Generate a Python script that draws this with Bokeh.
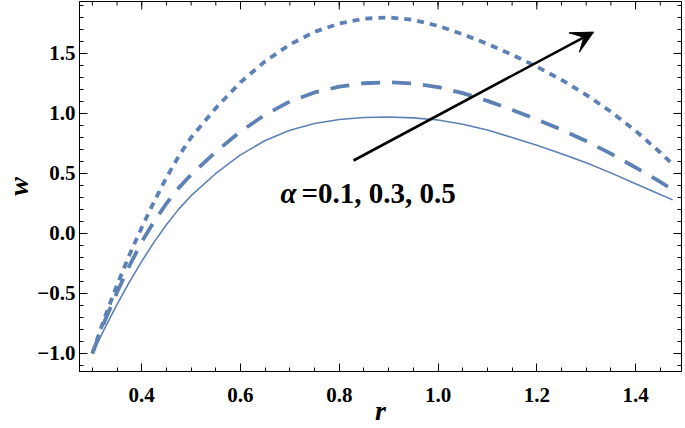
import numpy as np
from bokeh.plotting import figure
from bokeh.models import LinearAxis, FixedTicker, Range1d, Arrow, VeeHead, Label
from bokeh.embed import file_html
from bokeh.resources import INLINE

# ---- data ----
r = [0.30, 0.325, 0.35, 0.375, 0.40, 0.425, 0.45, 0.475, 0.50, 0.55, 0.60, 0.65,
     0.70, 0.75, 0.80, 0.85, 0.90, 0.95, 1.00, 1.05, 1.10, 1.15, 1.20, 1.25,
     1.30, 1.35, 1.40, 1.45, 1.475]
w_alpha_01 = [-1.00, -0.79, -0.59, -0.405, -0.232, -0.072, 0.073, 0.203, 0.315, 0.50, 0.655, 0.775,
              0.86, 0.917, 0.95, 0.967, 0.97, 0.963, 0.945, 0.91, 0.862, 0.80, 0.735, 0.665,
              0.59, 0.505, 0.415, 0.325, 0.28]
w_alpha_03 = [-1.00, -0.73, -0.49, -0.27, -0.07, 0.10, 0.25, 0.38, 0.49, 0.68, 0.85, 0.99,
              1.10, 1.175, 1.223, 1.252, 1.26, 1.25, 1.22, 1.17, 1.105, 1.03, 0.95, 0.865,
              0.77, 0.665, 0.55, 0.43, 0.365]
w_alpha_05 = [-1.00, -0.70, -0.43, -0.18, 0.05, 0.265, 0.465, 0.645, 0.80, 1.045, 1.26, 1.435,
              1.575, 1.68, 1.75, 1.79, 1.80, 1.78, 1.73, 1.66, 1.58, 1.49, 1.39, 1.28,
              1.155, 1.015, 0.855, 0.675, 0.578]

x_ticks = [0.4, 0.6, 0.8, 1.0, 1.2, 1.4]
x_tick_labels = ["0.4", "0.6", "0.8", "1.0", "1.2", "1.4"]
y_ticks = [-1.0, -0.5, 0.0, 0.5, 1.0, 1.5]
y_tick_labels = ["\u22121.0", "\u22120.5", "0.0", "0.5", "1.0", "1.5"]

x_range_lims = [0.274, 1.493]
y_range_lims = [-1.15, 1.933]

arrow_start = [0.829, 0.608]
arrow_end = [1.315, 1.678]
annot_pos = [0.681, 0.34]
annot_symbol = "\u03b1"
annot_text = "=0.1, 0.3, 0.5"

# ---- figure ----
COLOR = "#5E81B5"
FONT = "Liberation Serif"

p = figure(width=685, height=428, output_backend="svg", toolbar_location=None,
           x_range=Range1d(*x_range_lims), y_range=Range1d(*y_range_lims),
           x_axis_location=None, y_axis_location=None,
           min_border_left=79, min_border_right=4, min_border_top=1, min_border_bottom=57)
p.grid.visible = False
p.outline_line_color = "black"
p.outline_line_width = 1
p.background_fill_color = "white"
p.border_fill_color = "white"

x_minor = [v for v in np.round(np.arange(0.25, 1.55, 0.05), 3)
           if x_range_lims[0] < v < x_range_lims[1]]
y_minor = [v for v in np.round(np.arange(-1.2, 2.0, 0.1), 3)
           if y_range_lims[0] < v < y_range_lims[1]]
xt = FixedTicker(ticks=x_ticks, minor_ticks=x_minor)
yt = FixedTicker(ticks=y_ticks, minor_ticks=y_minor)


def style_axis(ax):
    ax.axis_line_color = "black"
    ax.axis_line_width = 1
    ax.major_tick_in = 8
    ax.major_tick_out = 0
    ax.minor_tick_in = 4
    ax.minor_tick_out = 0
    ax.major_tick_line_color = "black"
    ax.minor_tick_line_color = "black"
    ax.major_label_text_font = FONT
    ax.major_label_text_font_style = "bold"
    ax.major_label_text_font_size = "21px"
    ax.major_label_text_color = "black"
    ax.axis_label_text_font = FONT
    ax.axis_label_text_font_style = "bold italic"
    ax.axis_label_text_font_size = "28px"
    ax.axis_label_text_color = "black"


xb = LinearAxis(ticker=xt, axis_label="r",
                major_label_overrides=dict(zip(x_ticks, x_tick_labels)))
style_axis(xb)
xb.major_label_standoff = 16
xb.axis_label_standoff = -10
p.add_layout(xb, "below")

yl = LinearAxis(ticker=yt, axis_label="w",
                major_label_overrides=dict(zip(y_ticks, y_tick_labels)))
style_axis(yl)
yl.major_label_standoff = 4
yl.axis_label_standoff = 0
p.add_layout(yl, "left")

# mirrored frame ticks on the top and right edges
top_y = y_range_lims[1]
right_x = x_range_lims[1]
p.ray(x=x_ticks, y=[top_y] * len(x_ticks), length=8, length_units="screen",
      angle=-np.pi / 2, line_color="black", line_width=1)
p.ray(x=x_minor, y=[top_y] * len(x_minor), length=4, length_units="screen",
      angle=-np.pi / 2, line_color="black", line_width=1)
p.ray(x=[right_x] * len(y_ticks), y=y_ticks, length=8, length_units="screen",
      angle=np.pi, line_color="black", line_width=1)
p.ray(x=[right_x] * len(y_minor), y=y_minor, length=4, length_units="screen",
      angle=np.pi, line_color="black", line_width=1)

# ---- curves ----
p.line(r, w_alpha_01, line_color=COLOR, line_width=1.6)
p.line(r, w_alpha_03, line_color=COLOR, line_width=3.8, line_dash="19 12")
p.line(r, w_alpha_05, line_color=COLOR, line_width=3.8, line_dash="7 6")

# ---- arrow and annotation ----
p.add_layout(Arrow(x_start=arrow_start[0], y_start=arrow_start[1],
                   x_end=arrow_end[0], y_end=arrow_end[1],
                   line_color="black", line_width=2.6,
                   end=VeeHead(size=22, fill_color="black", line_color="black")))
p.add_layout(Label(x=annot_pos[0], y=annot_pos[1], text=annot_symbol,
                   text_font=FONT, text_font_style="bold italic", text_font_size="29px",
                   text_color="black", text_baseline="alphabetic"))
p.add_layout(Label(x=annot_pos[0], y=annot_pos[1], x_offset=21, text=annot_text,
                   text_font=FONT, text_font_style="bold", text_font_size="29px",
                   text_color="black", text_baseline="alphabetic"))

open("out.html", "w").write(file_html(p, INLINE))
